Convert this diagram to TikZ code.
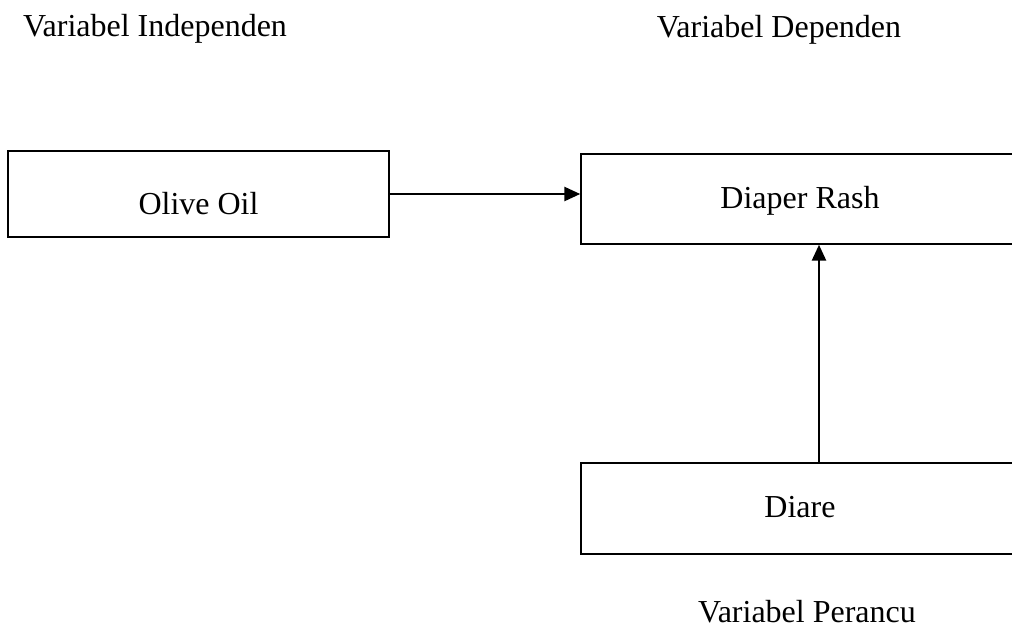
\documentclass[tikz,border=0pt]{standalone}
\usepackage{fontspec}
\setmainfont{Liberation Serif}
\usetikzlibrary{arrows.meta}
\begin{document}
\begin{tikzpicture}[x=1pt,y=-1pt,
  box/.style={draw=black,line width=1.4pt,rectangle,inner sep=0pt},
  lbl/.style={anchor=base,inner sep=0pt,font=\fontsize{32}{38}\selectfont},
  conn/.style={line width=2.6pt,-{Triangle[length=16pt,width=14pt]}}]
\useasboundingbox (0,0) rectangle (1012,630);
\clip (0,0) rectangle (1012,630);
\node[box,minimum width=381pt,minimum height=86pt] (oil) at (198.5,194) {};
\node[box,minimum width=438pt,minimum height=90pt] (dr) at (800,199) {};
\node[box,minimum width=438pt,minimum height=91pt] (di) at (800,508.5) {};
\node[lbl] (toil) at (198.5,214) {Olive Oil};
\node[lbl] (tdr) at (800,208) {Diaper Rash};
\node[lbl] (tdi) at (800,517) {Diare};
\node[lbl] (hind) at (155,36) {Variabel Independen};
\node[lbl] (hdep) at (779,37) {Variabel Dependen};
\node[lbl] (hper) at (807,622) {Variabel Perancu};
\draw[conn] (oil.east) -- (oil.east -| dr.west);
\coordinate (v) at (819,463);
\draw[conn] (v) -- (v |- dr.south);
\end{tikzpicture}
\end{document}
